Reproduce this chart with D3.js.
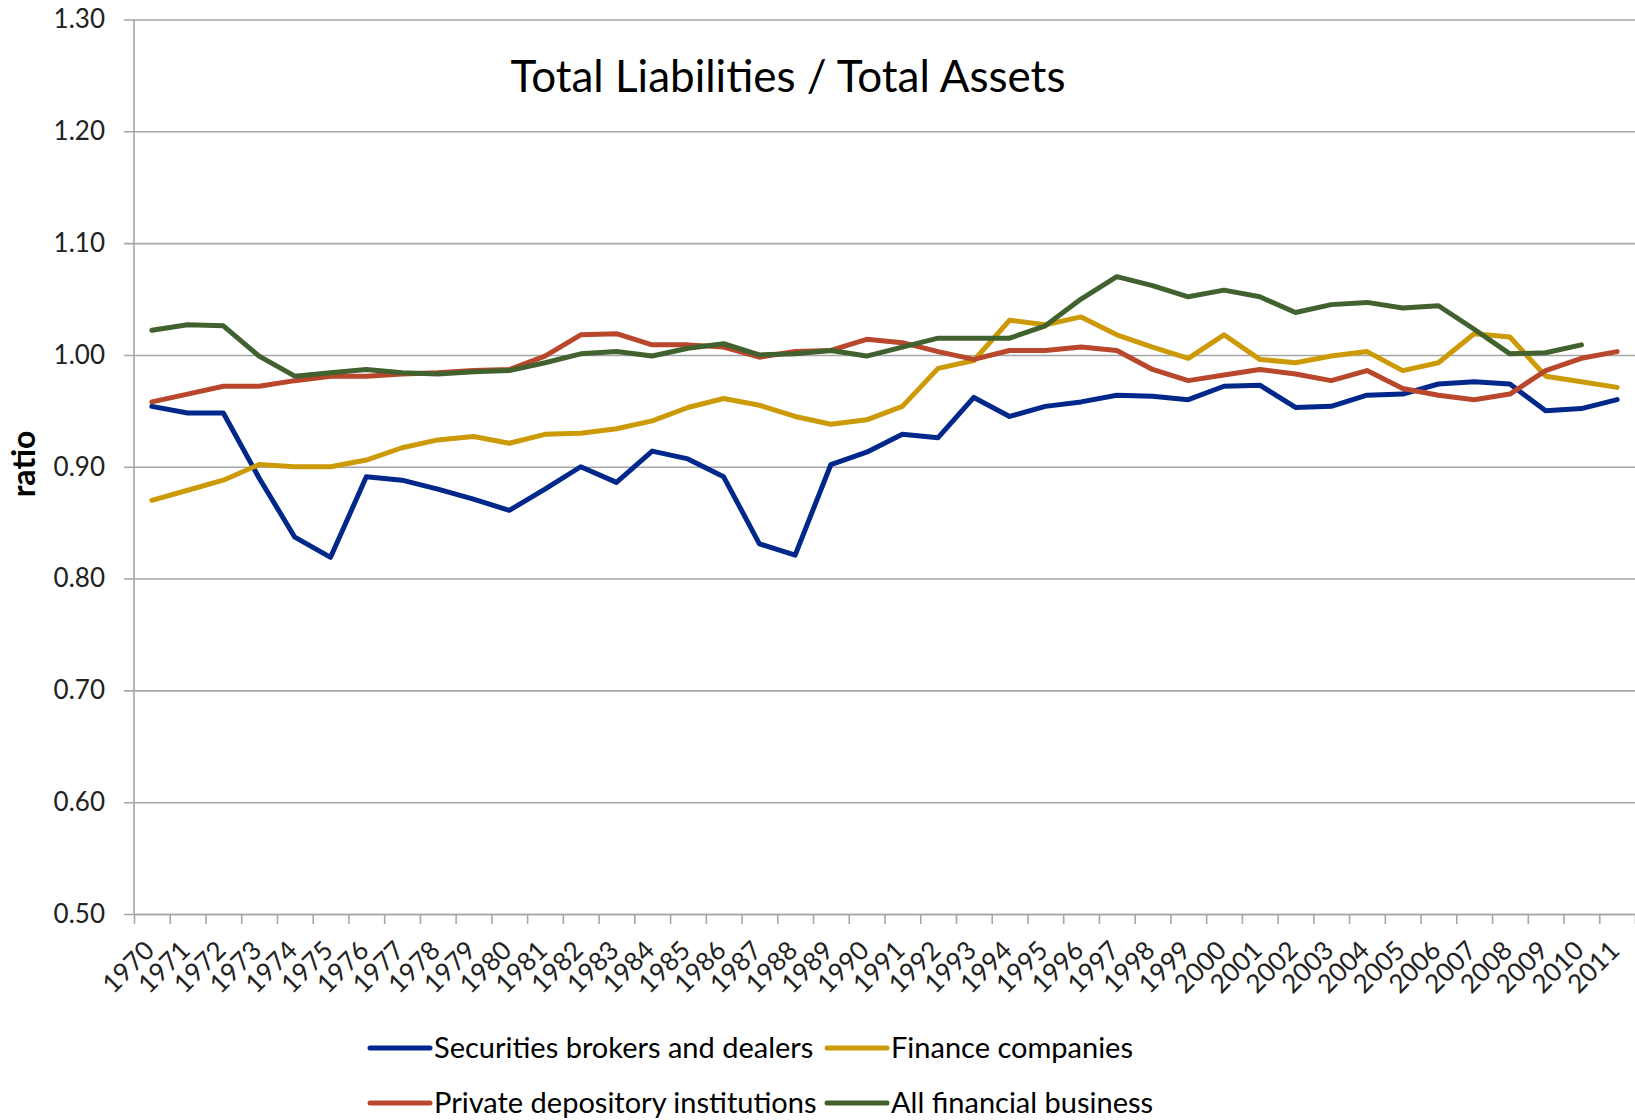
<!DOCTYPE html>
<html>
<head>
<meta charset="utf-8">
<script src="https://cdn.jsdelivr.net/npm/d3@7/dist/d3.min.js"></script>
<style>
  body { margin: 0; background: #fff; }
  text { font-family: Lato, "Open Sans", sans-serif; }
</style>
</head>
<body>
<div id="chart"></div>
<script>
// years along the x axis
var years = ["1970","1971","1972","1973","1974","1975","1976","1977","1978","1979",
  "1980","1981","1982","1983","1984","1985","1986","1987","1988","1989",
  "1990","1991","1992","1993","1994","1995","1996","1997","1998","1999",
  "2000","2001","2002","2003","2004","2005","2006","2007","2008","2009",
  "2010","2011"];

var brokers = [0.954,0.948,0.948,0.890,0.837,0.819,0.891,0.888,0.880,0.871,
  0.861,0.880,0.900,0.886,0.914,0.907,0.891,0.831,0.821,0.902,
  0.913,0.929,0.926,0.962,0.945,0.954,0.958,0.964,0.963,0.960,
  0.972,0.973,0.953,0.954,0.964,0.965,0.974,0.976,0.974,0.950,
  0.952,0.960];

var finance = [0.870,0.879,0.888,0.902,0.900,0.900,0.906,0.917,0.924,0.927,
  0.921,0.929,0.930,0.934,0.941,0.953,0.961,0.955,0.945,0.938,
  0.942,0.954,0.988,0.995,1.031,1.027,1.034,1.018,1.007,0.997,
  1.018,0.996,0.993,0.999,1.003,0.986,0.993,1.019,1.016,0.981,
  0.976,0.971];

var depository = [0.958,0.965,0.972,0.972,0.977,0.981,0.981,0.983,0.984,0.986,
  0.987,0.999,1.018,1.019,1.009,1.009,1.007,0.998,1.003,1.004,
  1.014,1.011,1.003,0.996,1.004,1.004,1.007,1.004,0.987,0.977,
  0.982,0.987,0.983,0.977,0.986,0.970,0.964,0.960,0.965,0.986,
  0.997,1.003];

// no value for 2011
var allFinancial = [1.022,1.027,1.026,0.999,0.981,0.984,0.987,0.984,0.983,0.985,
  0.986,0.993,1.001,1.003,0.999,1.006,1.010,1.000,1.001,1.004,
  0.999,1.007,1.015,1.015,1.015,1.026,1.050,1.070,1.062,1.052,
  1.058,1.052,1.038,1.045,1.047,1.042,1.044,1.023,1.001,1.002,
  1.009,null];

var yTicks = [0.50,0.60,0.70,0.80,0.90,1.00,1.10,1.20,1.30];

var seriesNames = ["Securities brokers and dealers","Finance companies",
  "Private depository institutions","All financial business"];
var seriesColors = ["#00288a","#cc9a06","#b8472b","#41622f"];
var seriesValues = [brokers, finance, depository, allFinancial];

var margin = {top: 19.5, right: 0, bottom: 206, left: 134},
    width = 1635 - margin.left - margin.right,
    height = 1120 - margin.top - margin.bottom;

var svg = d3.select("#chart").append("svg")
    .attr("width", 1635)
    .attr("height", 1120);

var g = svg.append("g")
    .attr("transform", "translate(" + margin.left + "," + margin.top + ")");

var x = d3.scaleBand()
    .domain(years)
    .range([0, width])
    .padding(0);

var y = d3.scaleLinear()
    .domain([0.5, 1.3])
    .range([height, 0]);

// gridlines + y labels
var yAxis = g.append("g")
    .call(d3.axisLeft(y)
        .tickValues(yTicks)
        .tickSize(-width)
        .tickPadding(29)
        .tickFormat(d3.format(".2f")));
yAxis.select(".domain").remove();
yAxis.selectAll("line")
    .attr("x1", -10)
    .attr("stroke", "#a6a6a6")
    .attr("stroke-width", 1.6);
yAxis.selectAll("text")
    .attr("fill", "#222")
    .style("font-size", "26px");

// y axis line
g.append("line")
    .attr("x1", 0).attr("x2", 0)
    .attr("y1", 0).attr("y2", height)
    .attr("stroke", "#a6a6a6")
    .attr("stroke-width", 1.6);

// x axis: tick marks on the category boundaries
var xEdge = d3.scaleLinear().domain([0, years.length]).range([0, width]);
var xTicks = g.append("g")
    .attr("transform", "translate(0," + height + ")")
    .call(d3.axisBottom(xEdge)
        .tickValues(d3.range(years.length + 1))
        .tickSize(10)
        .tickSizeOuter(0)
        .tickFormat(""));
xTicks.select(".domain").attr("stroke", "#a6a6a6").attr("stroke-width", 1.6);
xTicks.selectAll("line").attr("stroke", "#a6a6a6").attr("stroke-width", 1.6);

// x labels, rotated
var xLabels = g.append("g")
    .attr("transform", "translate(0," + height + ")")
    .call(d3.axisBottom(x).tickSize(0).tickPadding(0));
xLabels.select(".domain").remove();
xLabels.selectAll("text")
    .attr("fill", "#222")
    .style("font-size", "26px")
    .attr("text-anchor", "end")
    .attr("y", 0)
    .attr("dy", 0)
    .attr("transform", "translate(4,38) rotate(-45)");

// lines
var line = d3.line()
    .defined(function(d) { return d != null; })
    .x(function(d, i) { return x(years[i]) + x.bandwidth() / 2; })
    .y(function(d) { return y(d); });

g.selectAll(".series")
    .data(seriesValues)
    .enter().append("path")
    .attr("class", "series")
    .attr("fill", "none")
    .attr("stroke", function(d, i) { return seriesColors[i]; })
    .attr("stroke-width", 5)
    .attr("stroke-linejoin", "round")
    .attr("stroke-linecap", "round")
    .attr("d", line);

// title
svg.append("text")
    .attr("x", 788)
    .attr("y", 92)
    .attr("text-anchor", "middle")
    .style("font-size", "44px")
    .attr("fill", "#000")
    .text("Total Liabilities / Total Assets");

// y axis title
svg.append("text")
    .attr("transform", "translate(35,464) rotate(-90)")
    .attr("text-anchor", "middle")
    .style("font-size", "32px")
    .style("font-weight", 700)
    .attr("fill", "#000")
    .text("ratio");

// legend, two rows of two
var legendX = [370, 827];
var legendY = [1048, 1103];
var legend = svg.selectAll(".legend")
    .data(seriesNames)
    .enter().append("g")
    .attr("class", "legend")
    .attr("transform", function(d, i) {
        return "translate(" + legendX[i % 2] + "," + legendY[Math.floor(i / 2)] + ")";
    });
legend.append("line")
    .attr("x1", 0).attr("x2", 60)
    .attr("stroke", function(d, i) { return seriesColors[i]; })
    .attr("stroke-width", 5)
    .attr("stroke-linecap", "round");
legend.append("text")
    .attr("x", 64)
    .attr("dy", "0.35em")
    .style("font-size", "29px")
    .attr("fill", "#000")
    .text(function(d) { return d; });
</script>
</body>
</html>
